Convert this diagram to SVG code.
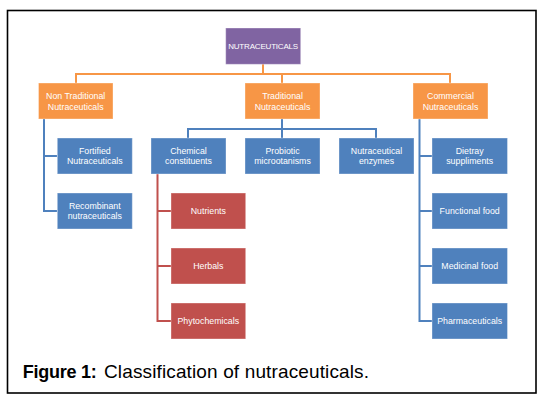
<svg xmlns="http://www.w3.org/2000/svg" width="551" height="404" viewBox="0 0 551 404">
<style>
.t{font-family:"Liberation Sans",Arial,sans-serif;font-size:8.8px;fill:#fff;text-anchor:middle}
.r{font-size:8px}
.box{stroke:#fff;stroke-opacity:.35;stroke-width:1}
.c{fill:none;stroke-width:2}
.cap{font-family:"Liberation Sans",Arial,sans-serif;font-size:18px;fill:#000}
</style>
<rect x="0" y="0" width="551" height="404" fill="#fff"/>
<rect x="7.5" y="10.5" width="528.5" height="382.5" fill="#fff" stroke="#000" stroke-width="1.6"/>
<g id="connectors">
<path class="c" stroke="#F79646" d="M263,64V74M76,83V74H450V83M282,74V83"/>
<path class="c" stroke="#4F81BD" d="M282,119V129M188,138V129H376V138M282,129V138"/>
<path class="c" stroke="#4F81BD" d="M44,119V211H57M44,156H57"/>
<path class="c" stroke="#4F81BD" d="M419.5,119V321H432M419.5,156H432M419.5,211H432M419.5,266H432"/>
<path class="c" stroke="#C0504D" d="M157.5,174V321H171M157.5,211H171M157.5,266H171"/>
</g>
<g id="root"><rect class="box" x="225.7" y="28" width="75" height="36.3" fill="#8064A2"/><text class="t r" x="263.2" y="49" textLength="70">NUTRACEUTICALS</text></g>
<g id="nontraditional"><rect class="box" x="38.5" y="83" width="74.5" height="36" fill="#F79646"/><text class="t" x="75.7" y="99">Non Traditional</text><text class="t" x="75.7" y="109.5">Nutraceuticals</text></g>
<g id="traditional"><rect class="box" x="245" y="83" width="75" height="36" fill="#F79646"/><text class="t" x="282.5" y="99">Traditional</text><text class="t" x="282.5" y="109.5">Nutraceuticals</text></g>
<g id="commercial"><rect class="box" x="413" y="83" width="75" height="36" fill="#F79646"/><text class="t" x="450.5" y="99">Commercial</text><text class="t" x="450.5" y="109.5">Nutraceuticals</text></g>
<g id="fortified"><rect class="box" x="57.3" y="138" width="75" height="36" fill="#4F81BD"/><text class="t" x="94.8" y="153.5">Fortified</text><text class="t" x="94.8" y="164">Nutraceuticals</text></g>
<g id="recombinant"><rect class="box" x="57.3" y="193" width="75" height="36" fill="#4F81BD"/><text class="t" x="94.8" y="208.5">Recombinant</text><text class="t" x="94.8" y="219">nutraceuticals</text></g>
<g id="chemical"><rect class="box" x="151" y="138" width="75" height="36" fill="#4F81BD"/><text class="t" x="188.5" y="153.5">Chemical</text><text class="t" x="188.5" y="164">constituents</text></g>
<g id="probiotic"><rect class="box" x="245" y="138" width="75" height="36" fill="#4F81BD"/><text class="t" x="282.5" y="153.5">Probiotic</text><text class="t" x="282.5" y="164">microotanisms</text></g>
<g id="enzymes"><rect class="box" x="339" y="138" width="75" height="36" fill="#4F81BD"/><text class="t" x="376.5" y="153.5">Nutraceutical</text><text class="t" x="376.5" y="164">enzymes</text></g>
<g id="dietray"><rect class="box" x="432" y="138" width="75.5" height="36" fill="#4F81BD"/><text class="t" x="469.7" y="153.5">Dietray</text><text class="t" x="469.7" y="164">suppliments</text></g>
<g id="functional"><rect class="box" x="432" y="193" width="75.5" height="36" fill="#4F81BD"/><text class="t" x="469.7" y="214">Functional food</text></g>
<g id="medicinal"><rect class="box" x="432" y="248" width="75.5" height="36" fill="#4F81BD"/><text class="t" x="469.7" y="269">Medicinal food</text></g>
<g id="pharmaceuticals"><rect class="box" x="432" y="303" width="75.5" height="36" fill="#4F81BD"/><text class="t" x="469.7" y="324">Pharmaceuticals</text></g>
<g id="nutrients"><rect class="box" x="171" y="193" width="74.7" height="36" fill="#C0504D"/><text class="t" x="208.3" y="214">Nutrients</text></g>
<g id="herbals"><rect class="box" x="171" y="248" width="74.7" height="36" fill="#C0504D"/><text class="t" x="208.3" y="269">Herbals</text></g>
<g id="phytochemicals"><rect class="box" x="171" y="303" width="74.7" height="36" fill="#C0504D"/><text class="t" x="208.3" y="324">Phytochemicals</text></g>
<text class="cap" y="378"><tspan x="22.7" font-weight="bold" textLength="74">Figure 1:</tspan><tspan x="104" font-size="19" textLength="265">Classification of nutraceuticals.</tspan></text>
</svg>
